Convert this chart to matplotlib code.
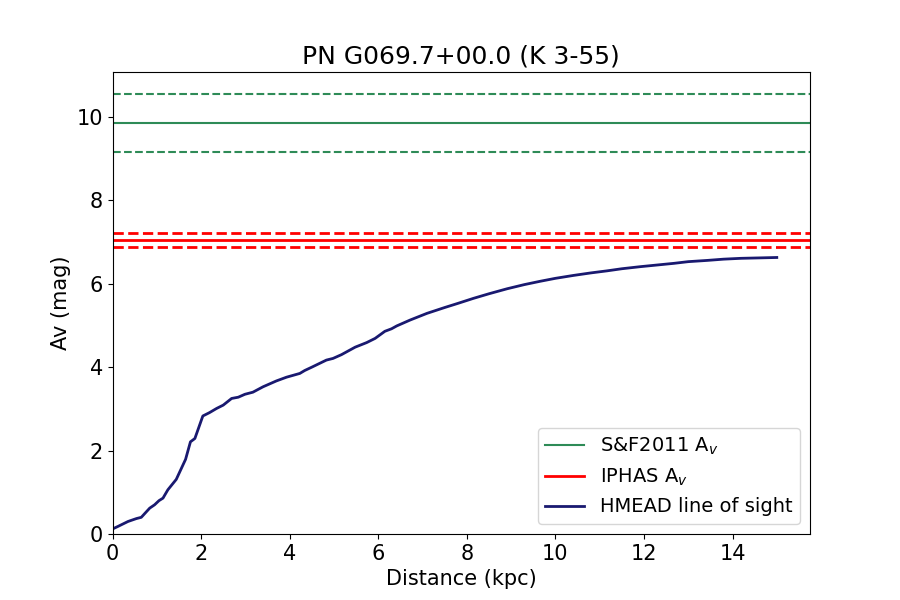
import numpy as np
import matplotlib
matplotlib.use('Agg')
import matplotlib.pyplot as plt

# HMEAD line of sight
dist = [0.0, 0.12, 0.35, 0.54, 0.65, 0.84, 0.95, 1.05, 1.14, 1.25, 1.44, 1.65, 1.76, 1.86,
        2.04, 2.19, 2.35, 2.50, 2.69, 2.84, 2.99, 3.17, 3.40, 3.70, 3.93, 4.23, 4.34, 4.50,
        4.83, 4.98, 5.17, 5.48, 5.74, 5.93, 6.15, 6.30, 6.42, 6.72, 7.10, 7.50, 7.80, 8.15,
        8.50, 8.91, 9.30, 9.66, 10.0, 10.41, 10.8, 11.17, 11.5, 11.92, 12.3, 12.68, 13.0,
        13.43, 13.8, 14.19, 14.6, 15.0]
av = [0.12, 0.18, 0.30, 0.37, 0.40, 0.62, 0.70, 0.80, 0.86, 1.06, 1.31, 1.79, 2.21, 2.29,
      2.83, 2.91, 3.01, 3.09, 3.25, 3.28, 3.35, 3.40, 3.53, 3.67, 3.76, 3.85, 3.92, 4.00,
      4.17, 4.21, 4.30, 4.48, 4.59, 4.69, 4.86, 4.92, 4.99, 5.13, 5.29, 5.43, 5.53, 5.65,
      5.76, 5.88, 5.98, 6.06, 6.13, 6.20, 6.26, 6.31, 6.36, 6.41, 6.45, 6.49, 6.53,
      6.56, 6.59, 6.61, 6.62, 6.63]

sf_av = 9.85
sf_err = 0.70
iphas_av = 7.05
iphas_err = 0.16

title = 'PN G069.7+00.0 (K 3-55)'

fig, ax = plt.subplots(figsize=(9, 6), dpi=100)

ax.axhline(sf_av, color='seagreen', lw=1.5, label='S&F2011 A$_v$')
ax.axhline(sf_av + sf_err, color='seagreen', lw=1.5, ls='--')
ax.axhline(sf_av - sf_err, color='seagreen', lw=1.5, ls='--')

ax.axhline(iphas_av, color='red', lw=2, label='IPHAS A$_v$')
ax.axhline(iphas_av + iphas_err, color='red', lw=2, ls='--')
ax.axhline(iphas_av - iphas_err, color='red', lw=2, ls='--')

ax.plot(dist, av, color='midnightblue', lw=2, label='HMEAD line of sight')

ax.set_xlim(0, max(dist) * 1.05)
ax.set_ylim(0, (sf_av + sf_err) * 1.05)
ax.set_title(title, fontsize=18)
ax.set_xlabel('Distance (kpc)', fontsize=15)
ax.set_ylabel('Av (mag)', fontsize=15)
ax.tick_params(labelsize=15)
ax.legend(loc='lower right', fontsize=14)

fig.savefig('out.png')
